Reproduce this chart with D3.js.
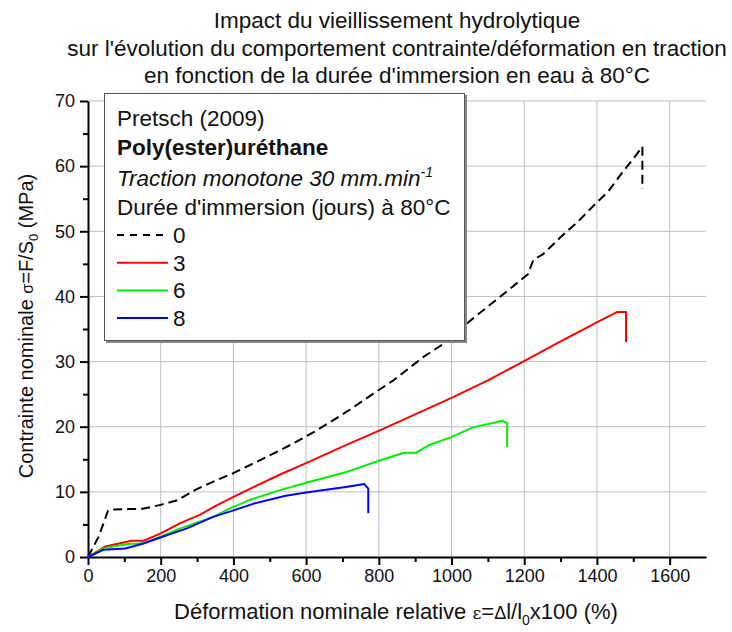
<!DOCTYPE html>
<html>
<head>
<meta charset="utf-8">
<script src="https://cdn.jsdelivr.net/npm/d3@7"></script>
<style>
  body { margin: 0; background: #fff; }
  svg text { font-family: "Liberation Sans", Arial, sans-serif; fill: #111; }
  .grid line { stroke: #bdbdbd; stroke-width: 1; }
  .axis path, .axis line { stroke: #000; stroke-width: 2; }
</style>
</head>
<body>
<div id="vizContainer"></div>
<script>
// titles and labels
var titleLines = [
  "Impact du vieillissement hydrolytique",
  "sur l'évolution du comportement contrainte/déformation en traction",
  "en fonction de la durée d'immersion en eau à 80°C"
];
var xTicks = [0, 200, 400, 600, 800, 1000, 1200, 1400, 1600];
var yTicks = [0, 10, 20, 30, 40, 50, 60, 70];
var seriesNames = ["0", "3", "6", "8"];
var seriesColors = ["#000000", "#ff0000", "#00ee00", "#0000ff"];

// strain (%) , stress (MPa)
var days0 = [[0,0],[30,3.2],[55,7.1],[62,7.3],[150,7.4],[200,8.0],[245,8.7],[295,10.3],
  [346,11.6],[401,12.9],[456,14.4],[511,15.9],[567,17.5],[622,19.2],[663,20.6],
  [720,22.6],[783,25.0],[842,27.2],[925,30.8],[980,32.8],[1054,36.4],[1146,40.5],
  [1210,43.4],[1225,45.6],[1252,46.5],[1302,49.2],[1348,51.5],[1394,54.1],
  [1431,56.1],[1468,58.9],[1505,61.5],[1525,63.0],[1525,56.5]];
var days3 = [[0,0],[47,1.6],[120,2.5],[153,2.5],[199,3.6],[254,5.2],[309,6.5],
  [346,7.7],[392,9.0],[447,10.5],[530,12.7],[600,14.4],[714,17.3],[801,19.4],
  [944,23.0],[1003,24.5],[1100,27.1],[1201,30.1],[1300,33.1],[1413,36.4],[1455,37.6],
  [1480,37.6],[1480,33.0]];
var days6 = [[0,0],[47,1.4],[110,2.0],[153,2.1],[199,3.1],[254,4.4],[346,6.2],
  [392,7.5],[447,8.8],[530,10.3],[600,11.4],[714,13.1],[806,14.9],[870,16.0],
  [902,16.0],[939,17.2],[999,18.4],[1059,19.9],[1141,20.9],[1153,20.5],[1153,16.9]];
var days8 = [[0,0],[42,1.1],[102,1.3],[148,2.0],[199,3.0],[272,4.4],[346,6.2],
  [392,7.0],[456,8.2],[544,9.4],[600,9.9],[714,10.8],[760,11.2],[771,10.5],[771,6.7]];
var allSeries = [days0, days3, days6, days8];

var svg = d3.select("#vizContainer").append("svg")
  .attr("width", 732).attr("height", 632);

var plotLeft = 88, plotRight = 706, plotTop = 101, plotBottom = 557;
var x = d3.scaleLinear().domain([0, 1700]).range([plotLeft, plotRight]);
var y = d3.scaleLinear().domain([0, 70]).range([plotBottom, plotTop]);

// title
svg.selectAll(".title").data(titleLines).enter()
  .append("text")
  .attr("class", "title")
  .attr("x", 397)
  .attr("y", function(d, i) { return 28 + i * 27.5; })
  .attr("text-anchor", "middle")
  .style("font-size", "22.5px")
  .text(function(d) { return d; });

// grid
var grid = svg.append("g").attr("class", "grid");
grid.selectAll(".gx").data(xTicks.slice(1)).enter()
  .append("line")
  .attr("x1", function(d) { return x(d); }).attr("x2", function(d) { return x(d); })
  .attr("y1", plotTop).attr("y2", plotBottom);
grid.selectAll(".gy").data(yTicks.slice(1)).enter()
  .append("line")
  .attr("x1", plotLeft).attr("x2", plotRight)
  .attr("y1", function(d) { return y(d); }).attr("y2", function(d) { return y(d); });

// minor ticks (drawn first, majors on top)
var xAxisMinor = d3.axisBottom(x).tickValues(d3.range(100, 1700, 200))
  .tickSize(5).tickFormat("");
var yAxisMinor = d3.axisLeft(y).tickValues(d3.range(5, 70, 10))
  .tickSize(5).tickFormat("");
svg.append("g").attr("class", "axis")
  .attr("transform", "translate(0," + plotBottom + ")").call(xAxisMinor)
  .select(".domain").remove();
svg.append("g").attr("class", "axis")
  .attr("transform", "translate(" + plotLeft + ",0)").call(yAxisMinor)
  .select(".domain").remove();

var xAxis = d3.axisBottom(x).tickValues(xTicks).tickSizeInner(8).tickSizeOuter(0)
  .tickPadding(4).tickFormat(d3.format("d"));
var yAxis = d3.axisLeft(y).tickValues(yTicks).tickSizeInner(8).tickSizeOuter(0)
  .tickPadding(5).tickFormat(d3.format("d"));

var gx = svg.append("g").attr("class", "axis")
  .attr("transform", "translate(0," + plotBottom + ")").call(xAxis);
var gy = svg.append("g").attr("class", "axis")
  .attr("transform", "translate(" + plotLeft + ",0)").call(yAxis);
gx.selectAll("text").style("font-size", "18px").style("font-family", "Liberation Sans, Arial, sans-serif");
gy.selectAll("text").style("font-size", "18px").style("font-family", "Liberation Sans, Arial, sans-serif");

// curves
var line = d3.line()
  .x(function(d) { return x(d[0]); })
  .y(function(d) { return y(d[1]); });

svg.selectAll(".curve").data(allSeries).enter()
  .append("path")
  .attr("class", "curve")
  .attr("d", line)
  .style("fill", "none")
  .style("stroke", function(d, i) { return seriesColors[i]; })
  .style("stroke-width", 2)
  .style("stroke-linejoin", "round")
  .style("stroke-dasharray", function(d, i) { return i == 0 ? "9,5" : null; });

// axis labels
var xLab = svg.append("text")
  .attr("x", 396).attr("y", 619)
  .attr("text-anchor", "middle")
  .style("font-size", "22px");
xLab.append("tspan").text("Déformation nominale relative ");
xLab.append("tspan").style("font-family", "DejaVu Serif, serif").style("font-size", "17px").text("ε");
xLab.append("tspan").text("=");
xLab.append("tspan").style("font-size", "18px").text("Δ");
xLab.append("tspan").text("l/l");
xLab.append("tspan").attr("dy", 6).style("font-size", "14px").text("0");
xLab.append("tspan").attr("dy", -6).text("x100 (%)");

var yLab = svg.append("text")
  .attr("transform", "translate(33,326) rotate(-90)")
  .attr("text-anchor", "middle")
  .style("font-size", "20px");
yLab.append("tspan").text("Contrainte nominale ");
yLab.append("tspan").style("font-size", "16px").text("σ");
yLab.append("tspan").text("=F/S");
yLab.append("tspan").attr("dy", 5).style("font-size", "13px").text("0");
yLab.append("tspan").attr("dy", -5).text(" (MPa)");

// legend box
var legend = svg.append("g");
legend.append("rect")
  .attr("x", 106).attr("y", 95).attr("width", 361).attr("height", 248)
  .style("fill", "#888");
legend.append("rect")
  .attr("x", 104.5).attr("y", 93.5).attr("width", 360).attr("height", 247)
  .style("fill", "#fff").style("stroke", "#555").style("stroke-width", 1);

var lx = 117;
legend.append("text").attr("x", lx).attr("y", 126)
  .style("font-size", "22.5px").text("Pretsch (2009)");
legend.append("text").attr("x", lx).attr("y", 155)
  .style("font-size", "22.5px").style("font-weight", "bold").text("Poly(ester)uréthane");
var trac = legend.append("text").attr("x", lx).attr("y", 186)
  .style("font-size", "22.5px").style("font-style", "italic");
trac.append("tspan").text("Traction monotone 30 mm.min");
trac.append("tspan").attr("dy", -9).style("font-size", "14px").text("-1");
legend.append("text").attr("x", lx).attr("y", 215)
  .style("font-size", "22.5px").text("Durée d'immersion (jours) à 80°C");

var items = legend.selectAll(".item").data(seriesNames).enter()
  .append("g").attr("class", "item")
  .attr("transform", function(d, i) { return "translate(0," + (235 + i * 27.7) + ")"; });
items.append("line")
  .attr("x1", lx).attr("x2", 168).attr("y1", 0).attr("y2", 0)
  .style("stroke", function(d, i) { return seriesColors[i]; })
  .style("stroke-width", 2)
  .style("stroke-dasharray", function(d, i) { return i == 0 ? "7,6" : null; });
items.append("text")
  .attr("x", 173).attr("y", 8)
  .style("font-size", "22.5px")
  .text(function(d) { return d; });
</script>
</body>
</html>
